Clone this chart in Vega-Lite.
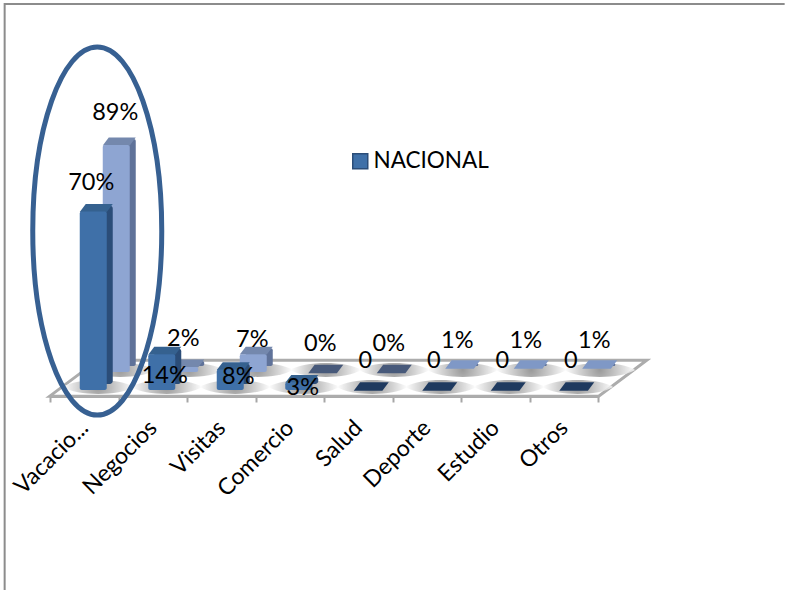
{
"$schema":"https://vega.github.io/schema/vega-lite/v6.json",
"width":785,"height":396,"autosize":{"type":"none"},
"padding":{"left":0,"top":0,"right":0,"bottom":194},
"background":"white",
"config":{"view":{"stroke":null},"text":{"font":"Lato","fontSize":23.5,"color":"#000000"}},
"data":{"values":[
{"categoria":"Vacacio...","serie":"frente","valor":70,"etiqueta":"70%"},
{"categoria":"Negocios","serie":"frente","valor":14,"etiqueta":"14%"},
{"categoria":"Visitas","serie":"frente","valor":8,"etiqueta":"8%"},
{"categoria":"Comercio","serie":"frente","valor":3,"etiqueta":"3%"},
{"categoria":"Salud","serie":"frente","valor":0,"etiqueta":"0"},
{"categoria":"Deporte","serie":"frente","valor":0,"etiqueta":"0"},
{"categoria":"Estudio","serie":"frente","valor":0,"etiqueta":"0"},
{"categoria":"Otros","serie":"frente","valor":0,"etiqueta":"0"},
{"categoria":"Vacacio...","serie":"fondo","valor":89,"etiqueta":"89%"},
{"categoria":"Negocios","serie":"fondo","valor":2,"etiqueta":"2%"},
{"categoria":"Visitas","serie":"fondo","valor":7,"etiqueta":"7%"},
{"categoria":"Comercio","serie":"fondo","valor":0,"etiqueta":"0%"},
{"categoria":"Salud","serie":"fondo","valor":0,"etiqueta":"0%"},
{"categoria":"Deporte","serie":"fondo","valor":1,"etiqueta":"1%"},
{"categoria":"Estudio","serie":"fondo","valor":1,"etiqueta":"1%"},
{"categoria":"Otros","serie":"fondo","valor":1,"etiqueta":"1%"}
]},
"encoding":{
"x":{"field":"categoria","type":"nominal","sort":null,
"scale":{"type":"band","domain":["Vacacio...","Negocios","Visitas","Comercio","Salud","Deporte","Estudio","Otros"],"range":[50,598],"paddingInner":0,"paddingOuter":0},
"axis":{"title":null,"labelAngle":-45,"labelAlign":"right","labelBaseline":"middle","labelFont":"Lato","labelFontSize":23,"labelColor":"#000000","labelPadding":22,"labelOverlap":false,"tickBand":"extent","tickColor":"#a6a6a6","tickSize":6,"tickWidth":2,"domainColor":"#a6a6a6","domainWidth":3,"grid":false}},
"y":{"field":"valor","type":"quantitative","scale":{"domain":[0,155.3],"nice":false,"zero":false},"axis":null}
},
"layer":[
{"data":{"values":[{"categoria":"Salud","valor":7}]},
 "mark":{"type":"point","shape":"M -1 0.0603 L 0.839 0.0603 L 1 -0.0603 L -0.839 -0.0603 Z","size":356409,"filled":true,"fill":"#ffffff","stroke":"#acacac","strokeWidth":3,"opacity":1,"xOffset":-10}},
{"data":{"values":[{"categoria":"Salud","valor":100}]},
 "mark":{"type":"point","shape":"M -0.884 1.1225 L -0.884 -0.3425 L 1.066 -0.3425","size":640000,"filled":false,"stroke":"#8c8c8c","strokeWidth":2,"opacity":1}},

{"transform":[{"filter":"datum.serie==='fondo'"}],
 "mark":{"type":"point","shape":"M -1 0 C -0.6 -0.26 0.6 -0.26 1 0 C 0.6 0.26 -0.6 0.26 -1 0 Z","size":5000,"filled":true,"opacity":0.8,"xOffset":36,"yOffset":-26,"fill":{"gradient":"radial","stops":[{"offset":0,"color":"#808080"},{"offset":0.55,"color":"#c4c4c4"},{"offset":1,"color":"#ffffff"}]}},
 "encoding":{"y":{"datum":0}}},
{"transform":[{"filter":"datum.serie==='fondo' && datum.valor>0"}],
 "mark":{"type":"bar","width":27,"color":"#5f7299","xOffset":38,"yOffset":-30,"y2Offset":-30,"cornerRadius":2},
 "encoding":{"y2":{"datum":0}}},
{"transform":[{"filter":"datum.serie==='fondo' && datum.valor>1"}],
 "mark":{"type":"point","shape":"M -1 0.24 L 0.636 0.24 L 1 -0.24 L -0.636 -0.24 Z","size":1089,"filled":true,"opacity":1,"fill":"#7488ad","xOffset":35,"yOffset":-27.5}},
{"transform":[{"filter":"datum.serie==='fondo' && datum.valor===1"}],
 "mark":{"type":"point","shape":"M -1 0.24 L 0.636 0.24 L 1 -0.24 L -0.636 -0.24 Z","size":1225,"filled":true,"opacity":1,"fill":"#7f98c6","xOffset":36,"yOffset":-29}},
{"transform":[{"filter":"datum.serie==='fondo' && datum.valor===0"}],
 "mark":{"type":"point","shape":"M -1 0.24 L 0.636 0.24 L 1 -0.24 L -0.636 -0.24 Z","size":1225,"filled":true,"opacity":1,"fill":"#47597a","xOffset":36,"yOffset":-27}},
{"transform":[{"filter":"datum.serie==='fondo' && datum.valor>1"}],
 "mark":{"type":"bar","width":27,"color":"#8ea5d2","xOffset":32,"yOffset":-24,"y2Offset":-24,"cornerRadius":2},
 "encoding":{"y2":{"datum":0}}},

{"transform":[{"filter":"datum.serie==='frente'"}],
 "mark":{"type":"point","shape":"M -1 0 C -0.6 -0.26 0.6 -0.26 1 0 C 0.6 0.26 -0.6 0.26 -1 0 Z","size":5000,"filled":true,"opacity":0.8,"xOffset":14,"yOffset":-9,"fill":{"gradient":"radial","stops":[{"offset":0,"color":"#808080"},{"offset":0.55,"color":"#c4c4c4"},{"offset":1,"color":"#ffffff"}]}},
 "encoding":{"y":{"datum":0}}},
{"transform":[{"filter":"datum.serie==='frente' && datum.valor>0"}],
 "mark":{"type":"bar","width":27,"color":"#2b4d78","xOffset":15,"yOffset":-12,"y2Offset":-12,"cornerRadius":3},
 "encoding":{"y2":{"datum":0}}},
{"transform":[{"filter":"datum.serie==='frente' && datum.valor>0"}],
 "mark":{"type":"point","shape":"M -1 0.24 L 0.636 0.24 L 1 -0.24 L -0.636 -0.24 Z","size":1089,"filled":true,"opacity":1,"fill":"#35618f","xOffset":12,"yOffset":-9.5}},
{"transform":[{"filter":"datum.serie==='frente' && datum.valor===0"}],
 "mark":{"type":"point","shape":"M -1 0.24 L 0.636 0.24 L 1 -0.24 L -0.636 -0.24 Z","size":1225,"filled":true,"opacity":1,"fill":"#1f3a5f","xOffset":13,"yOffset":-9.5}},
{"transform":[{"filter":"datum.serie==='frente' && datum.valor>0"}],
 "mark":{"type":"bar","width":27,"xOffset":9,"yOffset":-6,"y2Offset":-6,"cornerRadius":2,"opacity":1},
 "encoding":{"y2":{"datum":0},
 "color":{"datum":"NACIONAL","type":"nominal","scale":{"domain":["NACIONAL"],"range":["#3f70a8"]},
 "legend":{"title":null,"orient":"none","legendX":349,"legendY":150,"symbolType":"square","symbolSize":225,"symbolStrokeColor":"#2b4d78","labelFont":"Lato","labelFontSize":22.5,"labelColor":"#000000","labelOffset":2,"symbolOpacity":1}}}},

{"data":{"values":[{"categoria":"Vacacio...","valor":64.7}]},
 "mark":{"type":"point","shape":"M 0 -1.84 C 0.356 -1.84 0.645 -1.016 0.645 0 C 0.645 1.016 0.356 1.84 0 1.84 C -0.356 1.84 -0.645 1.016 -0.645 0 C -0.645 -1.016 -0.356 -1.84 0 -1.84 Z","size":40000,"filled":false,"stroke":"#376092","strokeWidth":5,"opacity":1,"xOffset":13}},

{"transform":[{"filter":"datum.serie==='frente' && (datum.valor===70 || datum.valor===0)"}],
 "mark":{"type":"text","xOffset":7,"yOffset":-35},"encoding":{"text":{"field":"etiqueta"}}},
{"transform":[{"filter":"datum.serie==='frente' && datum.valor===14"}],
 "mark":{"type":"text","xOffset":12,"yOffset":16},"encoding":{"text":{"field":"etiqueta"}}},
{"transform":[{"filter":"datum.serie==='frente' && datum.valor===8"}],
 "mark":{"type":"text","xOffset":17,"yOffset":1},"encoding":{"text":{"field":"etiqueta"}}},
{"transform":[{"filter":"datum.serie==='frente' && datum.valor===3"}],
 "mark":{"type":"text","xOffset":13,"yOffset":0},"encoding":{"text":{"field":"etiqueta"}}},
{"transform":[{"filter":"datum.serie==='fondo' && datum.valor!==89 && datum.valor!==7"}],
 "mark":{"type":"text","xOffset":30.5,"yOffset":-52},"encoding":{"text":{"field":"etiqueta"}}},
{"transform":[{"filter":"datum.serie==='fondo' && datum.valor===89"}],
 "mark":{"type":"text","xOffset":31,"yOffset":-56},"encoding":{"text":{"field":"etiqueta"}}},
{"transform":[{"filter":"datum.serie==='fondo' && datum.valor===7"}],
 "mark":{"type":"text","xOffset":31,"yOffset":-38},"encoding":{"text":{"field":"etiqueta"}}}
]
}
